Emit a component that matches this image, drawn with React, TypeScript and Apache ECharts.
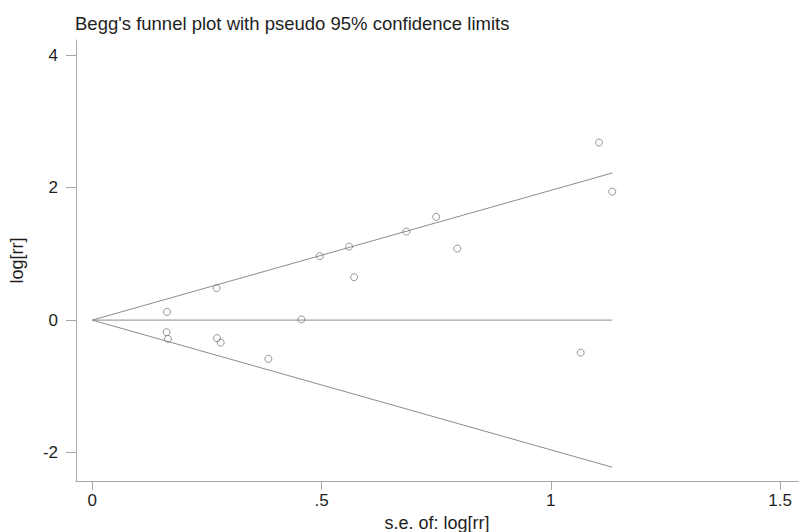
import React, { useEffect, useRef } from "react";
import * as echarts from "echarts";

// Standard errors (x) and log risk ratios (y)
const studySE = [0.163, 0.162, 0.165, 0.271, 0.272, 0.28, 0.384, 0.456, 0.496, 0.56, 0.571, 0.685, 0.75, 0.796, 1.105, 1.134, 1.065];
const studyLogRR = [0.124, -0.183, -0.284, 0.482, -0.273, -0.34, -0.586, 0.01, 0.965, 1.11, 0.648, 1.337, 1.559, 1.08, 2.681, 1.941, -0.491];

// Pseudo 95% confidence limits (funnel) endpoints
const funnelSE = [0, 1.134];
const funnelUpper = [0, 2.222];
const funnelLower = [0, -2.222];
const funnelCenter = [0, 0];

const xTicks = [0, 0.5, 1, 1.5];
const yTicks = [-2, 0, 2, 4];

const titleText = "Begg's funnel plot with pseudo 95% confidence limits";

export default function App() {
  const ref = useRef<HTMLDivElement>(null);

  useEffect(() => {
    if (!ref.current) return;
    const chart = echarts.init(ref.current, null, { renderer: "svg" });
    const font = "'Liberation Sans', Arial, Helvetica, sans-serif";
    const axisColor = "#a8a8a8";
    const lineColor = "#8c8c8c";
    const textColor = "#1e1e1e";

    const pts = studySE.map((s, i) => [s, studyLogRR[i]]);
    const mk = (ys: number[]) => funnelSE.map((s, i) => [s, ys[i]]);
    const lineSeries = (data: number[][]) => ({
      type: "line",
      data,
      symbol: "none",
      silent: true,
      lineStyle: { color: lineColor, width: 1 },
      z: 1,
    });

    chart.setOption({
      animation: false,
      backgroundColor: "#ffffff",
      title: {
        text: titleText,
        left: 70,
        top: 9,
        textStyle: { fontFamily: font, fontSize: 18.5, fontWeight: "normal", color: textColor },
      },
      grid: { left: 76, right: 2, top: 40, bottom: 51, containLabel: false, outerBoundsMode: "none" },
      xAxis: {
        type: "value",
        min: -0.0355,
        max: 1.539,
        name: "s.e. of: log[rr]",
        nameLocation: "middle",
        nameGap: 27,
        nameTextStyle: { fontFamily: font, fontSize: 18, color: textColor },
        splitLine: { show: false },
        axisLine: { show: true, onZero: false, lineStyle: { color: axisColor, width: 1 } },
        axisTick: {
          show: true,
          length: 9,
          customValues: xTicks,
          lineStyle: { color: axisColor },
        },
        axisLabel: {
          customValues: xTicks,
          margin: 11,
          fontFamily: font,
          fontSize: 17,
          color: textColor,
          formatter: (v: number) => (v === 0.5 ? ".5" : String(v)),
        },
      },
      yAxis: {
        type: "value",
        min: -2.43,
        max: 4.23,
        name: "log[rr]",
        nameLocation: "middle",
        nameGap: 50,
        nameRotate: 90,
        nameTextStyle: { fontFamily: font, fontSize: 18, color: textColor },
        splitLine: { show: false },
        axisLine: { show: true, onZero: false, lineStyle: { color: axisColor, width: 1 } },
        axisTick: {
          show: true,
          length: 10,
          customValues: yTicks,
          lineStyle: { color: axisColor },
        },
        axisLabel: {
          customValues: yTicks,
          margin: 18,
          fontFamily: font,
          fontSize: 17,
          color: textColor,
        },
      },
      series: [
        lineSeries(mk(funnelUpper)),
        lineSeries(mk(funnelLower)),
        lineSeries(mk(funnelCenter)),
        {
          type: "scatter",
          data: pts,
          symbol: "circle",
          symbolSize: 7,
          itemStyle: { color: "rgba(255,255,255,0)", borderColor: "#7a7a7a", borderWidth: 1 },
          z: 2,
        },
      ],
    });
    return () => chart.dispose();
  }, []);

  return <div ref={ref} style={{ width: 800, height: 532, position: "absolute", left: 0, top: 0 }} />;
}
